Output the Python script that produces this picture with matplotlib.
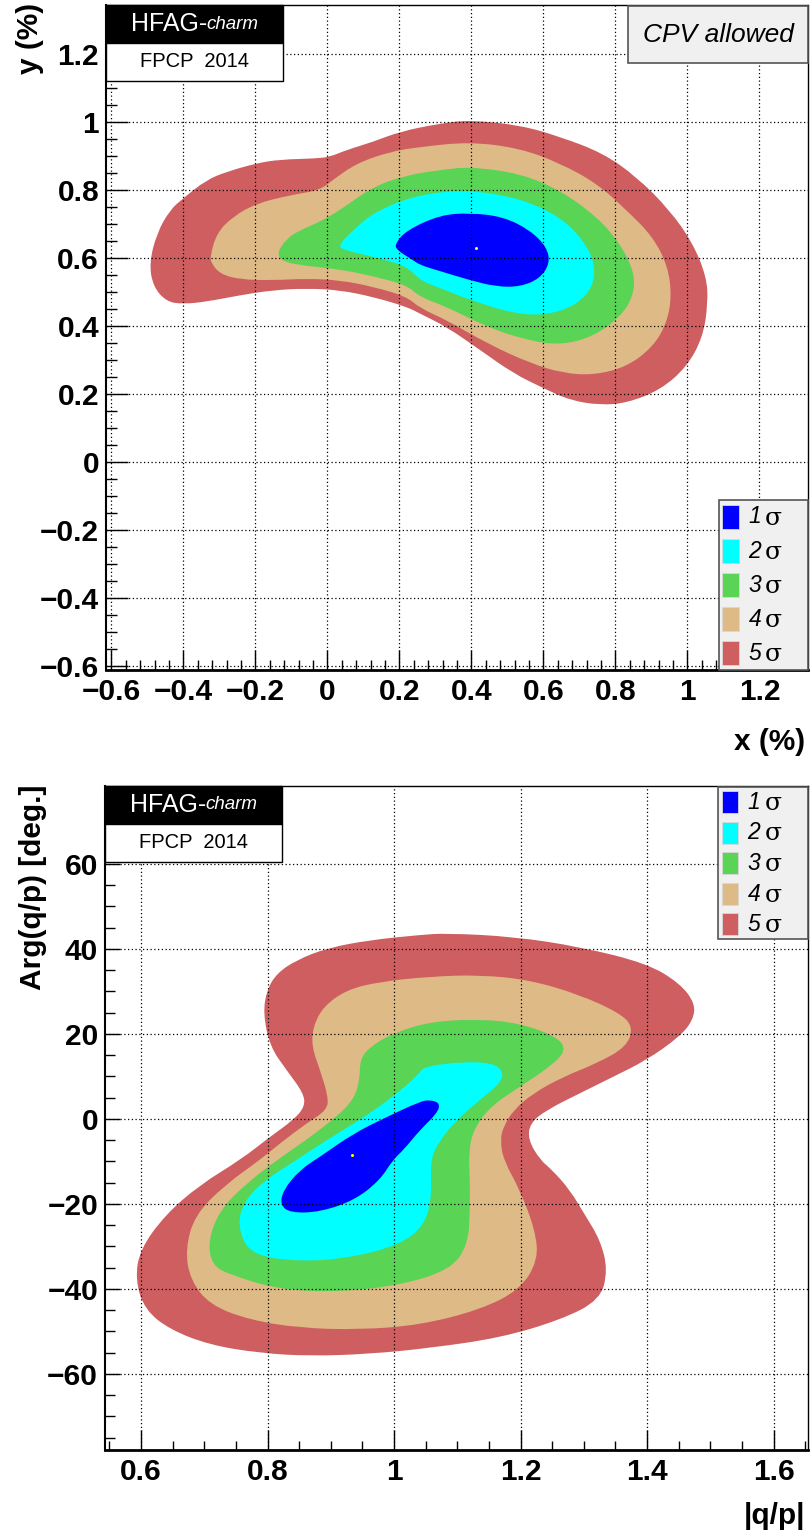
import numpy as np
import matplotlib.pyplot as plt
from matplotlib.patches import Rectangle, PathPatch
from matplotlib.path import Path
from matplotlib.ticker import FixedLocator, MultipleLocator, FuncFormatter

plt.rcParams['font.family'] = ['Liberation Sans', 'DejaVu Sans']
plt.rcParams['font.weight'] = 'bold'

SIGMA_LABELS = ['1', '2', '3', '4', '5']
SIGMA_COLORS = ['#0000ff', '#00ffff', '#59d454', '#deba87', '#cf5e61']

# ---- panel 1: x (%) vs y (%), contour outlines ----
XY_XTICKS = [-0.6, -0.4, -0.2, 0, 0.2, 0.4, 0.6, 0.8, 1, 1.2]
XY_YTICKS = [-0.6, -0.4, -0.2, 0, 0.2, 0.4, 0.6, 0.8, 1, 1.2]
xy_best = (0.414, 0.628)

xy_5sigma = [(-0.495, 0.584), (-0.474, 0.672), (-0.438, 0.740), (-0.401, 0.775), (-0.336, 0.829),
             (-0.280, 0.853), (-0.197, 0.878), (-0.132, 0.889), (-0.030, 0.892), (0.007, 0.897),
             (0.053, 0.917), (0.127, 0.941), (0.201, 0.971), (0.313, 0.995), (0.396, 1.005),
             (0.535, 0.990), (0.646, 0.956), (0.765, 0.908), (0.859, 0.838), (0.951, 0.740),
             (1.015, 0.643), (1.053, 0.544), (1.057, 0.467), (1.043, 0.367), (0.998, 0.279),
             (0.924, 0.211), (0.831, 0.173), (0.757, 0.167), (0.674, 0.181), (0.599, 0.217),
             (0.515, 0.261), (0.424, 0.329), (0.331, 0.397), (0.257, 0.436), (0.220, 0.456),
             (0.127, 0.485), (0.035, 0.505), (-0.058, 0.510), (-0.151, 0.505), (-0.243, 0.490),
             (-0.336, 0.471), (-0.401, 0.464), (-0.447, 0.471), (-0.484, 0.515)]
xy_4sigma = [(-0.326, 0.603), (-0.308, 0.672), (-0.263, 0.721), (-0.197, 0.760), (-0.104, 0.784),
             (-0.021, 0.799), (0.015, 0.829), (0.081, 0.878), (0.174, 0.912), (0.257, 0.926),
             (0.396, 0.941), (0.535, 0.922), (0.646, 0.878), (0.748, 0.819), (0.831, 0.740),
             (0.904, 0.662), (0.946, 0.574), (0.956, 0.485), (0.942, 0.407), (0.904, 0.338),
             (0.831, 0.279), (0.738, 0.255), (0.654, 0.261), (0.563, 0.290), (0.442, 0.349),
             (0.331, 0.417), (0.257, 0.452), (0.220, 0.486), (0.127, 0.515), (0.035, 0.534),
             (-0.058, 0.539), (-0.151, 0.534), (-0.243, 0.536), (-0.299, 0.553), (-0.322, 0.584)]
xy_3sigma = [(-0.141, 0.613), (-0.113, 0.657), (-0.076, 0.681), (-0.021, 0.706), (0.035, 0.740),
             (0.126, 0.809), (0.220, 0.843), (0.313, 0.858), (0.396, 0.868), (0.535, 0.848),
             (0.646, 0.799), (0.748, 0.721), (0.813, 0.642), (0.854, 0.554), (0.849, 0.485),
             (0.813, 0.426), (0.738, 0.368), (0.646, 0.343), (0.553, 0.358), (0.442, 0.397),
             (0.331, 0.456), (0.257, 0.485), (0.220, 0.520), (0.127, 0.546), (0.035, 0.566),
             (-0.058, 0.576), (-0.123, 0.588)]
xy_2sigma = [(0.030, 0.637), (0.072, 0.682), (0.126, 0.731), (0.220, 0.775), (0.313, 0.794),
             (0.396, 0.799), (0.535, 0.775), (0.646, 0.721), (0.711, 0.652), (0.743, 0.584),
             (0.738, 0.515), (0.692, 0.461), (0.609, 0.431), (0.516, 0.436), (0.396, 0.476),
             (0.303, 0.515), (0.257, 0.534), (0.220, 0.576), (0.127, 0.603), (0.044, 0.623)]
xy_1sigma = [(0.188, 0.642), (0.220, 0.681), (0.313, 0.726), (0.396, 0.732), (0.488, 0.721),
             (0.563, 0.681), (0.609, 0.632), (0.618, 0.584), (0.590, 0.539), (0.535, 0.515),
             (0.470, 0.515), (0.396, 0.534), (0.303, 0.564), (0.257, 0.579), (0.238, 0.593),
             (0.192, 0.623)]

# ---- panel 2: |q/p| vs Arg(q/p) [deg.] ----
QP_XTICKS = [0.6, 0.8, 1, 1.2, 1.4, 1.6]
QP_YTICKS = [-60, -40, -20, 0, 20, 40, 60]
qp_best = (0.934, -8.6)

qp_5sigma = [(0.793, 24.9), (0.799, 30.4), (0.815, 34.3), (0.846, 37.4), (0.894, 40.2),
             (0.962, 42.1), (1.041, 43.3), (1.083, 43.7), (1.189, 42.9), (1.294, 40.5),
             (1.400, 36.6), (1.452, 31.9), (1.476, 27.2), (1.473, 23.3), (1.452, 19.4),
             (1.400, 13.9), (1.347, 9.95), (1.294, 6.05), (1.241, 2.1), (1.215, -1.0),
             (1.212, -4.9), (1.231, -9.65), (1.250, -12.0), (1.278, -16.7), (1.302, -22.6),
             (1.326, -28.5), (1.338, -35.5), (1.326, -42.6), (1.263, -47.3), (1.168, -51.5),
             (1.057, -53.9), (0.962, -55.3), (0.867, -55.8), (0.788, -55.1), (0.709, -53.2),
             (0.646, -49.6), (0.606, -44.9), (0.591, -37.9), (0.598, -30.8), (0.638, -22.6),
             (0.693, -15.5), (0.757, -9.65), (0.804, -4.2), (0.841, -0.24), (0.859, 2.9),
             (0.857, 6.05), (0.830, 11.5), (0.804, 17.0)]
qp_4sigma = [(0.870, 17.0), (0.872, 21.7), (0.888, 26.4), (0.925, 30.4), (0.978, 32.3),
             (1.057, 33.5), (1.136, 33.9), (1.215, 32.7), (1.294, 29.2), (1.357, 24.9),
             (1.378, 21.7), (1.368, 17.0), (1.321, 13.1), (1.268, 9.95), (1.220, 6.05),
             (1.189, 2.1), (1.173, -1.8), (1.168, -4.9), (1.173, -9.65), (1.199, -16.7),
             (1.223, -26.1), (1.228, -33.2), (1.199, -40.2), (1.136, -44.9), (1.041, -48.5),
             (0.946, -49.6), (0.851, -49.2), (0.772, -47.3), (0.709, -43.8), (0.678, -37.9),
             (0.670, -30.8), (0.685, -22.6), (0.733, -15.5), (0.788, -9.65), (0.820, -5.7),
             (0.862, -1.0), (0.894, 2.1), (0.896, 5.25), (0.883, 11.5)]
qp_3sigma = [(0.946, 9.2), (0.946, 13.9), (0.962, 17.0), (0.999, 20.2), (1.057, 22.9),
             (1.136, 23.5), (1.199, 22.5), (1.257, 19.4), (1.273, 16.2), (1.247, 12.3),
             (1.199, 7.6), (1.152, 2.9), (1.125, -2.6), (1.118, -8.1), (1.120, -14.35),
             (1.120, -21.4), (1.117, -29.6), (1.089, -35.5), (1.010, -39.1), (0.915, -40.7),
             (0.820, -40.2), (0.741, -36.7), (0.712, -34.4), (0.706, -28.5), (0.725, -21.4),
             (0.764, -15.5), (0.815, -9.65), (0.862, -4.9), (0.909, 0.5), (0.936, 4.5)]
qp_2sigma = [(0.999, 5.25), (1.041, 10.75), (1.046, 12.3), (1.110, 13.5), (1.157, 13.1),
             (1.173, 11.1), (1.168, 8.4), (1.136, 4.5), (1.099, -0.24), (1.073, -4.9),
             (1.057, -9.65), (1.060, -17.9), (1.049, -24.9), (1.010, -29.6), (0.930, -32.7),
             (0.851, -33.6), (0.772, -32.0), (0.752, -24.9), (0.764, -19.1), (0.796, -14.35),
             (0.846, -9.65), (0.894, -4.9), (0.946, -0.24)]
qp_1sigma = [(0.883, -8.9), (0.936, -3.4), (0.989, 0.5), (1.041, 4.1), (1.057, 4.5),
             (1.073, 3.7), (1.068, 1.3), (1.041, -2.6), (1.015, -7.3), (0.998, -9.65),
             (0.978, -14.35), (0.938, -19.1), (0.883, -21.9), (0.836, -22.1), (0.820, -20.2),
             (0.825, -16.7), (0.851, -12.0)]


def tick_label(v, pos):
    return f"{v:g}".replace('-', '\u2212')


def style_axes(ax, xlim, ylim, xticks, yticks, xminor, yminor, xlen, ylen):
    ax.set_xlim(xlim)
    ax.set_ylim(ylim)
    ax.xaxis.set_major_locator(FixedLocator(xticks))
    ax.yaxis.set_major_locator(FixedLocator(yticks))
    ax.xaxis.set_minor_locator(MultipleLocator(xminor))
    ax.yaxis.set_minor_locator(MultipleLocator(yminor))
    ax.xaxis.set_major_formatter(FuncFormatter(tick_label))
    ax.yaxis.set_major_formatter(FuncFormatter(tick_label))
    ax.set_axisbelow(False)
    ax.grid(True, which='major', color='black', linestyle=(0, (1, 2)), linewidth=0.9)
    ax.tick_params(which='both', direction='in', top=False, right=False,
                   labelsize=21.5, width=1.0, color='black')
    ax.tick_params(axis='x', which='major', length=xlen[0], pad=6)
    ax.tick_params(axis='x', which='minor', length=xlen[1])
    ax.tick_params(axis='y', which='major', length=ylen[0], pad=5)
    ax.tick_params(axis='y', which='minor', length=ylen[1])
    ax.spines['bottom'].set_linewidth(2.0)
    ax.spines['left'].set_linewidth(1.5)
    for s in ('top', 'right'):
        ax.spines[s].set_linestyle((0, (1, 1)))
        ax.spines[s].set_linewidth(1.0)


def smooth_path(pts):
    # closed outline drawn as quadratic curves through the read-off vertices
    p = np.asarray(pts, dtype=float)
    mid = (p + np.roll(p, -1, axis=0)) / 2
    verts = [mid[-1]]
    codes = [Path.MOVETO]
    for i in range(len(p)):
        verts += [p[i], mid[i]]
        codes += [Path.CURVE3, Path.CURVE3]
    verts.append(mid[-1])
    codes.append(Path.CLOSEPOLY)
    return Path(verts, codes)


def fill_contours(ax, contours, best):
    # outermost (5 sigma) first
    for pts, col in zip(contours, SIGMA_COLORS[::-1]):
        ax.add_patch(PathPatch(smooth_path(pts), facecolor=col, lw=0, zorder=1))
    ax.plot([best[0]], [best[1]], 'o', color='yellow', ms=2.2, mew=0, zorder=2)


def hfag_label(ax):
    ax.add_patch(Rectangle((0.0, 0.943), 0.252, 0.057, transform=ax.transAxes,
                           facecolor='black', edgecolor='black', lw=1, zorder=5, clip_on=False))
    ax.add_patch(Rectangle((0.0, 0.886), 0.252, 0.057, transform=ax.transAxes,
                           facecolor='white', edgecolor='black', lw=1, zorder=5, clip_on=False))
    t = ax.text(0.035, 0.9715, 'HFAG-', transform=ax.transAxes, color='white', fontsize=18,
                fontweight='normal', ha='left', va='center', zorder=6)
    ax.annotate('charm', xycoords=t, xy=(1, 0.5), va='center', ha='left', color='white',
                fontsize=13.5, style='italic', fontweight='normal', zorder=6)
    ax.text(0.126, 0.9145, 'FPCP  2014', transform=ax.transAxes, color='black', fontsize=14.5,
            fontweight='normal', ha='center', va='center', zorder=6)


def sigma_legend(ax, x0, y_top, y_bot, row_y, patch_h):
    ax.add_patch(Rectangle((x0, y_bot), 1.0 - x0, y_top - y_bot, transform=ax.transAxes,
                           facecolor='#f0f0f0', edgecolor='#555555', lw=1.2, zorder=5,
                           clip_on=False))
    for lab, col, yc in zip(SIGMA_LABELS, SIGMA_COLORS, row_y):
        ax.add_patch(Rectangle((x0 + 0.005, yc - patch_h / 2), 0.024, patch_h,
                               transform=ax.transAxes, facecolor=col,
                               edgecolor='#d8d8d8', lw=0.6, zorder=6, clip_on=False))
        ax.text(x0 + 0.042, yc, lab, transform=ax.transAxes, fontsize=16.5, style='italic',
                fontweight='normal', ha='left', va='center', zorder=7)
        ax.text(x0 + 0.066, yc - 0.002, '\u03c3', transform=ax.transAxes, fontsize=18,
                fontweight='normal', family=['DejaVu Serif'], ha='left', va='center', zorder=7)


fig = plt.figure(figsize=(8.1, 15.4), dpi=100)

# ---------------- top panel ----------------
ax1 = fig.add_axes([0.1309, 0.5649, 0.8667, 0.4318])
fill_contours(ax1, [xy_5sigma, xy_4sigma, xy_3sigma, xy_2sigma, xy_1sigma], xy_best)
style_axes(ax1, (-0.615, 1.335), (-0.612, 1.343), XY_XTICKS, XY_YTICKS, 0.04, 0.05,
           (14.5, 7), (15.5, 8))
hfag_label(ax1)
ax1.add_patch(Rectangle((0.744, 0.913), 0.256, 0.085, transform=ax1.transAxes,
                        facecolor='#f0f0f0', edgecolor='#555555', lw=1.2, zorder=5,
                        clip_on=False))
ax1.text(0.872, 0.9555, 'CPV allowed', transform=ax1.transAxes, fontsize=19,
         style='italic', fontweight='normal', ha='center', va='center', zorder=6)
row1 = [1 - (516.7 - 5) / 665, 1 - (551 - 5) / 665, 1 - (585 - 5) / 665,
        1 - (619 - 5) / 665, 1 - (653 - 5) / 665]
sigma_legend(ax1, 0.873, 0.256, 0.0, row1, 24 / 665)

fig.text(805 / 810, 1 - 742 / 1540, 'x (%)', ha='right', va='center', fontsize=21.5)
fig.text(30 / 810, 1 - 3 / 1540, 'y (%)', ha='center', va='top', rotation=90, fontsize=21.5)

# ---------------- bottom panel ----------------
ax2 = fig.add_axes([0.1296, 0.05844, 0.8679, 0.4312])
fill_contours(ax2, [qp_5sigma, qp_4sigma, qp_3sigma, qp_2sigma, qp_1sigma], qp_best)
style_axes(ax2, (0.543, 1.6545), (-77.9, 78.35), QP_XTICKS, QP_YTICKS, 0.05, 5,
           (14.5, 6.5), (11, 7))
hfag_label(ax2)
row2 = [1 - (802.3 - 786) / 664, 1 - (832.7 - 786) / 664, 1 - (863.3 - 786) / 664,
        1 - (894.3 - 786) / 664, 1 - (924.3 - 786) / 664]
sigma_legend(ax2, 0.872, 0.998, 0.770, row2, 22 / 664)

fig.text(805 / 810, 1 - 1516 / 1540, '|q/p|', ha='right', va='center', fontsize=21.5)
fig.text(33 / 810, 1 - 785 / 1540, 'Arg(q/p) [deg.]', ha='center', va='top', rotation=90,
         fontsize=21.5)

fig.savefig('out.png', dpi=100)
